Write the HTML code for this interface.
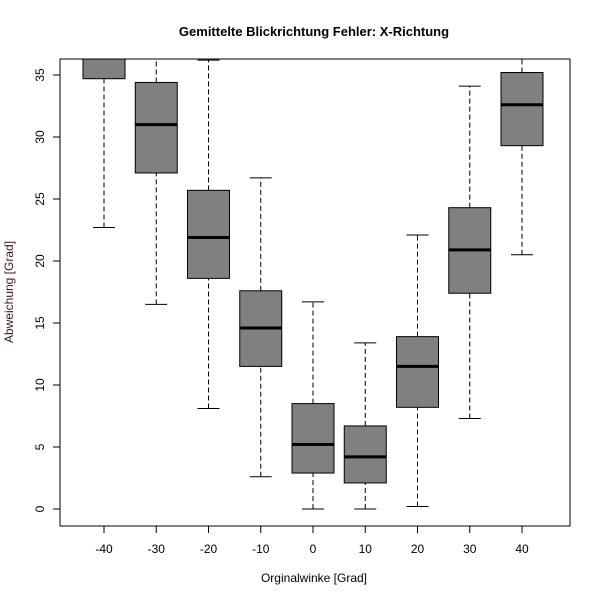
<!DOCTYPE html>
<html><head><meta charset="utf-8"><style>body{margin:0;background:#fff}svg{display:block;font-family:"Liberation Sans",Arial,sans-serif}</style></head>
<body>
<svg id="chart" width="600" height="600" viewBox="0 0 600 600">
<defs><clipPath id="clip"><rect x="60" y="59" width="510" height="467"/></clipPath></defs>
<rect width="600" height="600" fill="#fff"/>
<text x="314" y="36" text-anchor="middle" font-size="13" font-weight="bold">Gemittelte Blickrichtung Fehler: X-Richtung</text>
<text x="314" y="582" text-anchor="middle" font-size="12">Orginalwinke [Grad]</text>
<text transform="translate(13,292) rotate(-90)" text-anchor="middle" font-size="12" fill="#401030">Abweichung [Grad]</text>
<g id="xaxis"></g>
<g id="yaxis"></g>
<g id="boxes" clip-path="url(#clip)"></g>
<rect x="60" y="59" width="510" height="467" fill="none" stroke="#000" stroke-width="1"/>
</svg>
<script>
const categories=[-40,-30,-20,-10,0,10,20,30,40];
const whiskerLow=[22.7,16.5,8.1,2.6,0,0,0.2,7.3,20.5];
const q1=[34.7,27.1,18.6,11.5,2.9,2.1,8.2,17.4,29.3];
const medians=[38,31.0,21.9,14.6,5.2,4.2,11.5,20.9,32.6];
const q3=[40,34.4,25.7,17.6,8.5,6.7,13.9,24.3,35.2];
const whiskerHigh=[45,37.5,36.2,26.7,16.7,13.4,22.1,34.1,38];
const yTicks=[0,5,10,15,20,25,30,35];
const NS="http://www.w3.org/2000/svg";
const xs=i=>104+i*52.25;
const ys=v=>509-v*12.4;
function mk(tag,attrs,parent){const e=document.createElementNS(NS,tag);for(const k in attrs)e.setAttribute(k,attrs[k]);parent.appendChild(e);return e;}
const gb=document.getElementById('boxes'),gx=document.getElementById('xaxis'),gy=document.getElementById('yaxis');
categories.forEach((c,i)=>{
  const x=xs(i);
  const g=mk('g',{},gb);
  
  
  const w1=mk('line',{x1:x,x2:x,y1:ys(whiskerLow[i]),y2:ys(q1[i]),stroke:'#000','stroke-dasharray':'5,3'},g);
  
  
  const w2=mk('line',{x1:x,x2:x,y1:ys(q3[i]),y2:ys(whiskerHigh[i]),stroke:'#000','stroke-dasharray':'5,3'},g);
  
  
  const c1=mk('line',{x1:x-11,x2:x+11,y1:ys(whiskerLow[i]),y2:ys(whiskerLow[i]),stroke:'#000'},g);
  
  
  const c2=mk('line',{x1:x-11,x2:x+11,y1:ys(whiskerHigh[i]),y2:ys(whiskerHigh[i]),stroke:'#000'},g);
  
  
  const r=mk('rect',{x:x-21,y:ys(q3[i]),width:42,height:ys(q1[i])-ys(q3[i]),fill:'#808080',stroke:'#000'},g);
  
  
  const m=mk('line',{x1:x-21,x2:x+21,y1:ys(medians[i]),y2:ys(medians[i]),stroke:'#000','stroke-width':3},g);
  
  
  const t=mk('line',{x1:x,x2:x,y1:526,y2:533,stroke:'#000'},gx);
  
  
  const l=mk('text',{x:x,y:553,'text-anchor':'middle','font-size':12},gx);
  l.textContent=c;
  
  
});
yTicks.forEach(v=>{
  const y=ys(v);
  const t=mk('line',{x1:53,x2:60,y1:y,y2:y,stroke:'#000'},gy);
  
  
  const l=mk('text',{transform:`translate(44,${y}) rotate(-90)`,'text-anchor':'middle','font-size':12},gy);
  l.textContent=v;
  
  
});
</script>
</body></html>
